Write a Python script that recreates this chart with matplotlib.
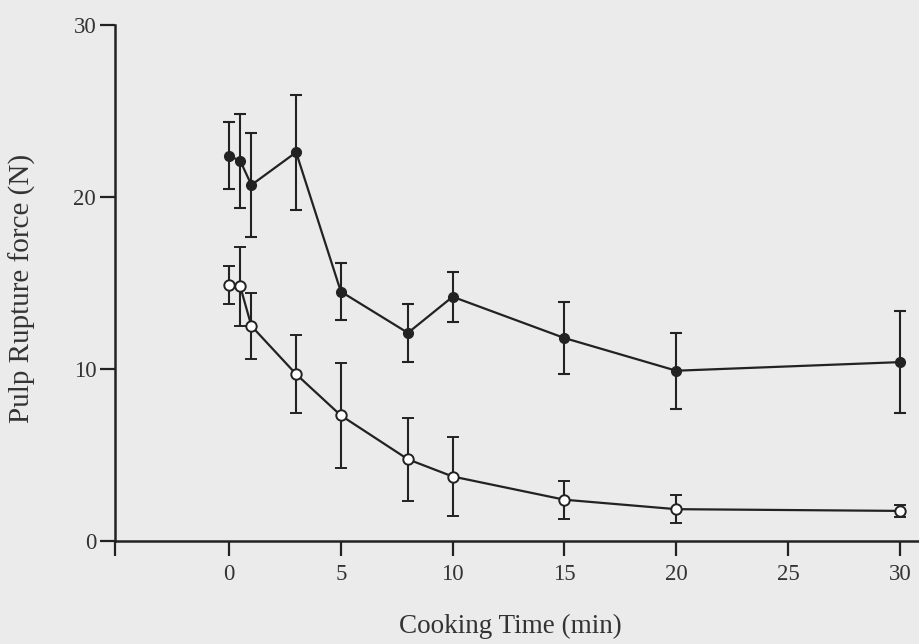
import matplotlib
matplotlib.use("Agg")
import matplotlib.pyplot as plt

# Data
time_min = [0, 0.5, 1, 3, 5, 8, 10, 15, 20, 30]
filled_mean = [22.4, 22.1, 20.7, 22.6, 14.5, 12.1, 14.2, 11.8, 9.9, 10.4]
filled_err = [1.95, 2.75, 3.0, 3.35, 1.65, 1.7, 1.45, 2.1, 2.2, 2.95]
open_mean = [14.9, 14.8, 12.5, 9.7, 7.3, 4.75, 3.75, 2.4, 1.85, 1.75]
open_err = [1.1, 2.3, 1.9, 2.25, 3.05, 2.4, 2.3, 1.1, 0.82, 0.35]

xticks = [0, 5, 10, 15, 20, 25, 30]
yticks = [0, 10, 20, 30]

bg = "#ebebeb"
ink = "#222222"
txt = "#333333"

plt.rcParams['font.family'] = ['Liberation Serif', 'DejaVu Serif']

W, H = 920, 644
fig = plt.figure(figsize=(W / 100, H / 100), dpi=100, facecolor=bg)
ax = fig.add_axes([115 / W, (H - 541) / H, (W - 115) / W, (541 - 25) / H])
ax.set_facecolor(bg)

ax.errorbar(time_min, filled_mean, yerr=filled_err, fmt='-o', color=ink,
            markerfacecolor=ink, markeredgecolor=ink, markersize=7,
            linewidth=1.6, elinewidth=1.5, capsize=4.5, capthick=1.5, zorder=3)
ax.errorbar(time_min, open_mean, yerr=open_err, fmt='-o', color=ink,
            markerfacecolor='white', markeredgecolor=ink, markersize=7.5,
            markeredgewidth=1.4, linewidth=1.6, elinewidth=1.5, capsize=4.5,
            capthick=1.5, zorder=4)

xmin = -5.1
ax.set_xlim(xmin, 30.9)
ax.set_ylim(0, 30)
ax.set_xticks([xmin] + xticks)
ax.set_xticklabels([''] + [str(t) for t in xticks])
ax.set_yticks(yticks)
ax.set_yticklabels([str(t) for t in yticks])

for s in ['top', 'right']:
    ax.spines[s].set_visible(False)
for s in ['left', 'bottom']:
    ax.spines[s].set_linewidth(1.8)
    ax.spines[s].set_color(ink)

ax.tick_params(axis='both', direction='out', length=10.5, width=1.6, color=ink,
               labelsize=16.5, labelcolor=txt, pad=3)
ax.tick_params(axis='x', pad=6)

fig.text(510 / W, 1 - 626 / H, 'Cooking Time (min)', fontsize=19.5, color=txt,
         ha='center', va='center')
fig.text(22 / W, 1 - 288 / H, 'Pulp Rupture force (N)', fontsize=21, color=txt,
         ha='center', va='center', rotation=90)

fig.savefig('out.png', dpi=100, facecolor=bg)
